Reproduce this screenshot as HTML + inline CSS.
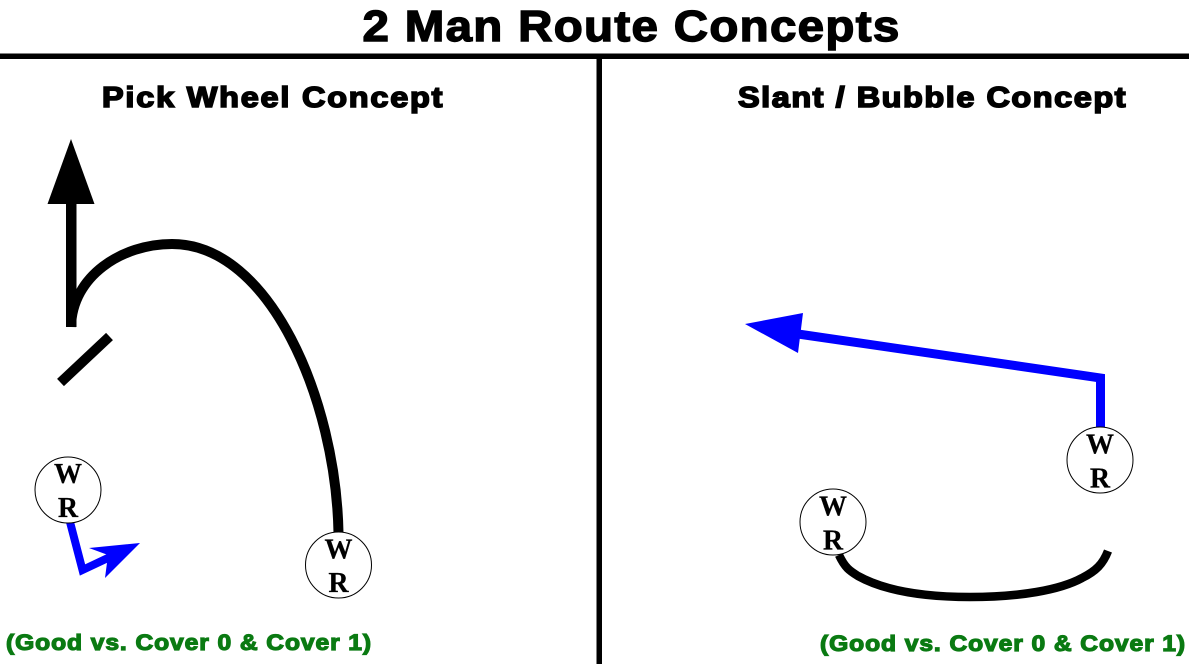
<!DOCTYPE html>
<html>
<head>
<meta charset="utf-8">
<style>
html,body{margin:0;padding:0;background:#fff;}
svg{display:block;}
.h{font-family:"Liberation Sans",sans-serif;font-weight:bold;}
.s{font-family:"Liberation Serif",serif;font-weight:bold;font-size:28px;fill:#000;stroke:#000;stroke-width:0.2;text-anchor:middle;}
</style>
</head>
<body>
<svg width="1189" height="664" viewBox="0 0 1189 664" xmlns="http://www.w3.org/2000/svg">
<rect width="1189" height="664" fill="#fff"/>
<rect x="0" y="53.500" width="1189" height="5.500" fill="#000"/>
<rect x="596.500" y="58" width="5.500" height="606" fill="#000"/>

<text class="h" transform="translate(362.500 41) scale(1.08 1)" font-size="44" textLength="497" lengthAdjust="spacing" fill="#000" stroke="#000" stroke-width="1.400">2 Man Route Concepts</text>
<text class="h" transform="translate(102 107) scale(1.12 1)" font-size="29" textLength="304" lengthAdjust="spacing" fill="#000" stroke="#000" stroke-width="1.600">Pick Wheel Concept</text>
<text class="h" transform="translate(738 107) scale(1.12 1)" font-size="29" textLength="346" lengthAdjust="spacing" fill="#000" stroke="#000" stroke-width="1.600">Slant / Bubble Concept</text>
<text class="h" transform="translate(6 650) scale(1.12 1)" font-size="22" textLength="326" lengthAdjust="spacing" fill="#0a7a12" stroke="#0a7a12" stroke-width="1.200">(Good vs. Cover 0 &amp; Cover 1)</text>
<text class="h" transform="translate(820 651) scale(1.12 1)" font-size="22" textLength="326" lengthAdjust="spacing" fill="#0a7a12" stroke="#0a7a12" stroke-width="1.200">(Good vs. Cover 0 &amp; Cover 1)</text>

<!-- Left: wheel -->
<path d="M338.500 533 C336 400 270 244 172 244 C122 244 72 276 71 327" fill="none" stroke="#000" stroke-width="10"/>
<rect x="66" y="200" width="10.500" height="127" fill="#000"/>
<polygon points="71,139 47.500,204 94.500,204" fill="#000"/>
<line x1="60.500" y1="382.500" x2="109.500" y2="336.500" stroke="#000" stroke-width="10"/>

<!-- Left: pick -->
<path d="M70 522 L82.500 570 L110 557" fill="none" stroke="#0000ff" stroke-width="8"/>
<polygon points="140,543 89,548 108,555 105,578" fill="#0000ff"/>

<!-- Left receivers -->
<circle cx="68" cy="490" r="33" fill="#fff" stroke="#000" stroke-width="1"/>
<text class="s" x="68" y="483">W</text>
<text class="s" x="68" y="517">R</text>
<circle cx="338.500" cy="565" r="33" fill="#fff" stroke="#000" stroke-width="1"/>
<text class="s" x="338.500" y="558.500">W</text>
<text class="s" x="338.500" y="592">R</text>

<!-- Right: slant -->
<path d="M1100.500 432 L1100.500 378 L798 334" fill="none" stroke="#0000ff" stroke-width="9"/>
<polygon points="745,324 803,313 798,353" fill="#0000ff"/>

<!-- Right: bubble -->
<path d="M839 555 C845 568 850 571 858 576 C885 591 925 597 970 597 C1020 597 1060 590 1082 578 C1096 571 1103 564 1108 551" fill="none" stroke="#000" stroke-width="8.500"/>

<!-- Right receivers -->
<circle cx="1100" cy="460" r="33" fill="#fff" stroke="#000" stroke-width="1"/>
<text class="s" x="1100" y="453.500">W</text>
<text class="s" x="1100" y="487.500">R</text>
<circle cx="833" cy="522" r="33" fill="#fff" stroke="#000" stroke-width="1"/>
<text class="s" x="833" y="515.500">W</text>
<text class="s" x="833" y="549.500">R</text>
</svg>
</body>
</html>
